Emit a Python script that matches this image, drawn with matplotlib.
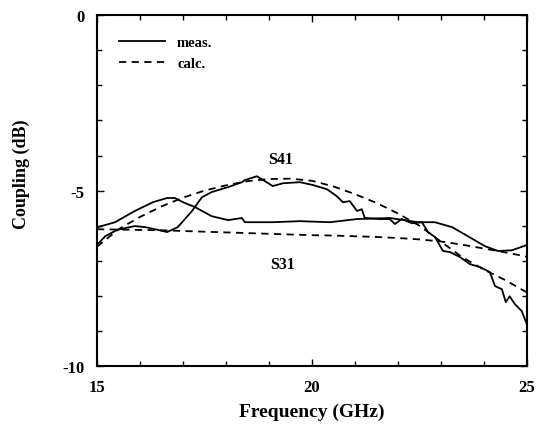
import matplotlib.pyplot as plt
from matplotlib.ticker import MultipleLocator

# S41 measured
s41_meas_f = [15.0, 15.19, 15.42, 15.53, 15.88, 16.12, 16.35, 16.63, 16.88, 17.21, 17.44,
              17.67, 18.05, 18.37, 18.44, 18.72, 19.09, 19.33, 19.72, 20.02, 20.35, 20.58,
              20.72, 20.88, 21.05, 21.16, 21.23, 21.58, 21.81, 21.93, 22.09, 22.33, 22.56,
              22.70, 22.86, 23.05, 23.21, 23.44, 23.67, 23.91, 24.14, 24.26, 24.42, 24.51,
              24.60, 24.72, 24.88, 25.0]
s41_meas_db = [-6.55, -6.30, -6.15, -6.10, -6.01, -6.04, -6.10, -6.18, -6.04, -5.58, -5.19,
               -5.04, -4.90, -4.76, -4.70, -4.59, -4.87, -4.79, -4.76, -4.84, -4.96, -5.16,
               -5.33, -5.30, -5.58, -5.53, -5.78, -5.81, -5.81, -5.95, -5.81, -5.93, -5.90,
               -6.18, -6.32, -6.72, -6.75, -6.89, -7.09, -7.18, -7.32, -7.72, -7.81, -8.18,
               -8.01, -8.23, -8.43, -8.80]

# S31 measured
s31_meas_f = [15.02, 15.42, 15.88, 16.30, 16.63, 16.81, 17.0, 17.28, 17.67, 18.05, 18.37,
              18.44, 19.09, 19.72, 20.42, 21.05, 21.81, 22.47, 22.86, 23.26, 23.63, 24.02,
              24.33, 24.65, 25.0]
s31_meas_db = [-6.04, -5.90, -5.58, -5.33, -5.21, -5.21, -5.33, -5.47, -5.73, -5.84, -5.78,
               -5.90, -5.90, -5.87, -5.90, -5.81, -5.78, -5.90, -5.90, -6.04, -6.30, -6.58,
               -6.72, -6.70, -6.55]

# calculated curves
calc_f = [15, 15.5, 16, 16.5, 17, 17.5, 18, 18.5, 19, 19.5, 20, 20.5, 21, 21.5, 22, 22.5,
          23, 23.5, 24, 24.5, 25]
s41_calc_db = [-6.6, -6.1, -5.75, -5.45, -5.2, -5.0, -4.85, -4.73, -4.67, -4.66, -4.72,
               -4.88, -5.1, -5.35, -5.65, -6.0, -6.45, -6.9, -7.25, -7.55, -7.9]
s31_calc_db = [-6.1, -6.11, -6.12, -6.13, -6.15, -6.17, -6.19, -6.21, -6.23, -6.25, -6.27,
               -6.28, -6.3, -6.32, -6.35, -6.39, -6.45, -6.54, -6.65, -6.76, -6.88]

plt.rcParams['font.family'] = 'Liberation Serif'
plt.rcParams['font.weight'] = 'bold'

fig = plt.figure(figsize=(5.42, 4.35), dpi=100)
ax = fig.add_axes([0.179, 0.156, 0.793, 0.807])

lw = 1.3
ax.plot(s41_meas_f, s41_meas_db, color='black', lw=lw, label='meas.')
ax.plot(s31_meas_f, s31_meas_db, color='black', lw=lw)
ax.plot(calc_f, s41_calc_db, color='black', lw=lw, ls=(0, (4, 3)), label='calc.')
ax.plot(calc_f, s31_calc_db, color='black', lw=lw, ls=(0, (4, 3)))

ax.text(19.28, -4.1, 'S41', ha='center', va='center', fontsize=11.5, fontweight='bold')
ax.text(19.33, -7.09, 'S31', ha='center', va='center', fontsize=11.5, fontweight='bold')

ax.set_xlim(15, 25)
ax.set_ylim(-10, 0)
ax.set_xticks([15, 20, 25])
ax.set_yticks([0, -5, -10])
ax.xaxis.set_minor_locator(MultipleLocator(1))
ax.yaxis.set_minor_locator(MultipleLocator(1))
ax.tick_params(which='both', direction='in', top=True, right=True, width=1.0)
ax.tick_params(which='major', length=5, labelsize=12, pad=9)
ax.tick_params(which='minor', length=3.5)
ax.set_xticklabels(['15', '20', '25'], fontweight='bold')
ax.set_yticklabels(['0', '-5', '-10'], fontweight='bold')
for s in ax.spines.values():
    s.set_linewidth(1.5)

ax.set_xlabel('Frequency (GHz)', fontsize=14, fontweight='bold')
ax.xaxis.set_label_coords(0.5, -0.105)
ax.set_ylabel('Coupling (dB)', fontsize=13, fontweight='bold')
ax.yaxis.set_label_coords(-0.155, 0.55)

ax.legend(loc='upper left', frameon=False, fontsize=10.5, handlelength=3.2,
          bbox_to_anchor=(0.01, 0.99), borderaxespad=0.8, labelspacing=0.5)

fig.savefig('out.png', dpi=100)
